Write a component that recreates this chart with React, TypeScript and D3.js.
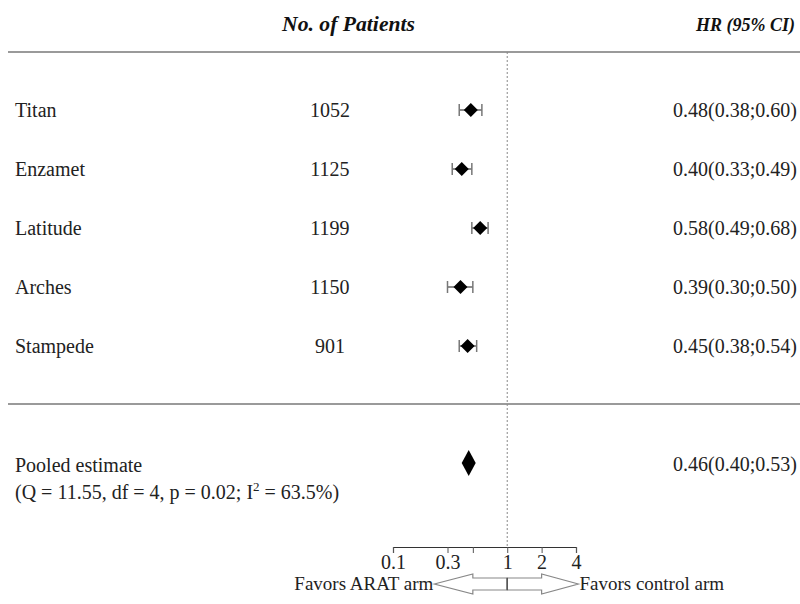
import React, { useEffect, useRef } from "react";
import * as d3 from "d3";

const studies = ["Titan", "Enzamet", "Latitude", "Arches", "Stampede"];
const patients = [1052, 1125, 1199, 1150, 901];
const hr = [0.48, 0.4, 0.58, 0.39, 0.45];
const lower = [0.38, 0.33, 0.49, 0.3, 0.38];
const upper = [0.6, 0.49, 0.68, 0.5, 0.54];

const pooled = { hr: 0.46, lower: 0.4, upper: 0.53 };
const pooledLabel = "Pooled estimate";

const tickValues = [0.1, 0.3, 0.5, 1, 2, 4];
const tickLabels = ["0.1", "0.3", "", "1", "2", "4"];

const font = "'Liberation Serif', 'Times New Roman', serif";
const fmt = (v: number) => v.toFixed(2);

const App = () => {
  const axisRef = useRef<SVGGElement>(null);

  const x = d3.scaleLog().domain([0.1, 4]).range([393, 576]);
  const y = d3.scalePoint<string>().domain(studies).range([110, 346]);

  const axisY = 547;
  const pooledY = 463;

  useEffect(() => {
    if (!axisRef.current) return;
    const axis = d3
      .axisBottom(x)
      .tickValues(tickValues)
      .tickSize(6)
      .tickPadding(2)
      .tickFormat((_, i) => tickLabels[i]);
    const g = d3.select(axisRef.current);
    g.selectAll("*").remove();
    g.call(axis as any);
    g.select(".domain").attr("stroke", "#333").attr("stroke-width", 1.2);
    g.selectAll(".tick line").attr("stroke", "#555");
    g.selectAll("text")
      .attr("font-family", font)
      .attr("font-size", 20)
      .attr("fill", "#222");
  }, []);

  // double arrow under the axis
  const ay = 584;
  const head = 10;
  const body = 6;
  const xl = x(0.23);
  const xb1 = x(0.5);
  const xb2 = x(2);
  const xr = x(4.2);
  const arrowL = `M${xl},${ay} L${xb1},${ay - head} L${xb1},${ay - body} L${x(1)},${ay - body} L${x(1)},${ay + body} L${xb1},${ay + body} L${xb1},${ay + head} Z`;
  const arrowR = `M${xr},${ay} L${xb2},${ay - head} L${xb2},${ay - body} L${x(1)},${ay - body} L${x(1)},${ay + body} L${xb2},${ay + body} L${xb2},${ay + head} Z`;

  return (
    <svg
      width={800}
      height={604}
      style={{ position: "absolute", left: 0, top: 0, background: "#fff" }}
      fontFamily={font}
    >
      <text x={282} y={31} fontSize={21} fontWeight="bold" fontStyle="italic" fill="#111"
        textLength={133} lengthAdjust="spacingAndGlyphs">
        No. of Patients
      </text>
      <text x={795} y={31} fontSize={18} fontWeight="bold" fontStyle="italic" fill="#111" textAnchor="end">
        HR (95% CI)
      </text>

      <line x1={8} x2={800} y1={52} y2={52} stroke="#9a9a9a" strokeWidth={2} />
      <line x1={8} x2={800} y1={404} y2={404} stroke="#9a9a9a" strokeWidth={2} />
      <line x1={x(1)} x2={x(1)} y1={52} y2={axisY} stroke="#888" strokeWidth={1} strokeDasharray="2,2" />

      {studies.map((s, i) => {
        const cy = y(s)!;
        const cx = x(hr[i]);
        return (
          <g key={s}>
            <text x={15} y={cy + 7} fontSize={20} fill="#222">{s}</text>
            <text x={330} y={cy + 7} fontSize={20} textAnchor="middle" fill="#222">{patients[i]}</text>
            <text x={797} y={cy + 7} fontSize={20} textAnchor="end" fill="#222">
              {`${fmt(hr[i])}(${fmt(lower[i])};${fmt(upper[i])})`}
            </text>
            <line x1={x(lower[i])} x2={x(upper[i])} y1={cy} y2={cy} stroke="#666" strokeWidth={1.5} />
            <line x1={x(lower[i])} x2={x(lower[i])} y1={cy - 6} y2={cy + 6} stroke="#777" strokeWidth={1.5} />
            <line x1={x(upper[i])} x2={x(upper[i])} y1={cy - 6} y2={cy + 6} stroke="#777" strokeWidth={1.5} />
            <path d={`M${cx - 7},${cy} L${cx},${cy - 7} L${cx + 7},${cy} L${cx},${cy + 7} Z`} fill="#000" />
          </g>
        );
      })}

      <text x={15} y={472} fontSize={20} fill="#222">{pooledLabel}</text>
      <text x={15} y={499} fontSize={20} fill="#222">
        (Q = 11.55, df = 4, p = 0.02; I
        <tspan fontSize={13} dy={-8}>2</tspan>
        <tspan dy={8}> = 63.5%)</tspan>
      </text>
      <text x={797} y={471} fontSize={20} textAnchor="end" fill="#222">
        {`${fmt(pooled.hr)}(${fmt(pooled.lower)};${fmt(pooled.upper)})`}
      </text>
      <path
        d={`M${x(pooled.hr) - 7},${pooledY} L${x(pooled.hr)},${pooledY - 13} L${x(pooled.hr) + 7},${pooledY} L${x(pooled.hr)},${pooledY + 13} Z`}
        fill="#000"
      />

      <g ref={axisRef} transform={`translate(0,${axisY})`} />

      <path d={arrowL} fill="#fff" stroke="#888" strokeWidth={1.2} />
      <path d={arrowR} fill="#fff" stroke="#888" strokeWidth={1.2} />
      <line x1={x(1)} x2={x(1)} y1={ay - body} y2={ay + body} stroke="#555" strokeWidth={1.5} />
      <text x={xl - 1} y={590} fontSize={19} textAnchor="end" fill="#222">Favors ARAT arm</text>
      <text x={xr + 1} y={590} fontSize={19} fill="#222">Favors control arm</text>
    </svg>
  );
};

export default App;
